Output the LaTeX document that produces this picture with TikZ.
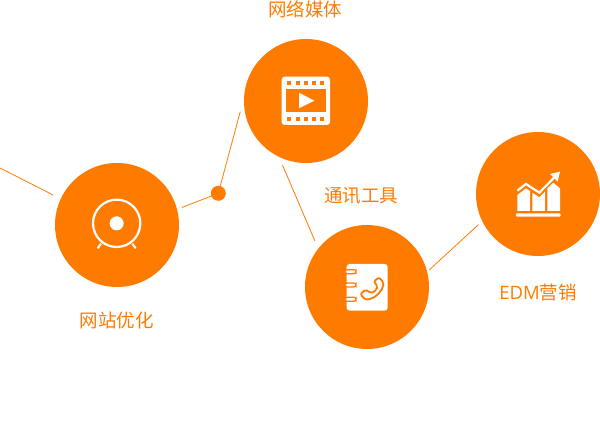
\documentclass[tikz,border=0pt]{standalone}
\usepackage{fontspec}
\setmainfont{Noto Sans CJK SC}
\newfontfamily\edmfont{Open Sans}
\definecolor{brandorange}{HTML}{FF7B00}
\begin{document}
\begin{tikzpicture}[x=1pt,y=-1pt]
        \tikzstyle{ball}=[fill=brandorange,circle,inner sep=0pt,outer sep=4pt,minimum size=124pt]
        \tikzstyle{spot}=[fill=brandorange,circle,inner sep=0pt,minimum size=15pt]
        \tikzstyle{lbl}=[text=brandorange,font=\fontsize{18.5}{19}\selectfont,inner sep=0pt]
        \tikzstyle{wire}=[draw=brandorange,line width=0.8pt]
        \useasboundingbox (0,0) rectangle (600,430);
        \node[ball] (webball) at (117,225) {};
        \node[ball] (mediaball) at (306,101) {};
        \node[ball] (toolball) at (367,287) {};
        \node[ball] (edmball) at (538,194) {};
        \node[spot] (dotball) at (218.3,193.3) {};
        \coordinate (wireend) at (0,168);
        \node[lbl] (medialbl) at (305,9) {网络媒体};
        \node[lbl] (toollbl) at (361,196) {通讯工具};
        \node[lbl] (edmlbl) at (538,292) {{\edmfont EDM}营销};
        \node[lbl] (weblbl) at (116.5,320) {网站优化};
        % connectors
        \draw[wire,shorten >=4.7pt] (wireend) -- (webball.155);
        \draw[wire,shorten <=1.4pt] (webball.15.5) -- (dotball.center);
        \draw[wire,shorten >=1.5pt] (dotball.center) -- (mediaball.188.6);
        \draw[wire,shorten <=3pt,shorten >=4pt] (mediaball.248.8) -- (toolball.140.6);
        \draw[wire,shorten <=-1.4pt,shorten >=1pt] (toolball.16.4) -- (edmball.207);
        % target icon
        \begin{scope}[shift={(70,180)},scale=1/3]
            \draw[white,line width=2.2pt] (140,130) circle (71);
            \fill[white] (140,130) circle (21);
            \draw[white,line width=2pt] (93,191) -- (83,205);
            \draw[white,line width=2pt] (187,191) -- (197,205);
        \end{scope}
        % film icon
        \begin{scope}[shift={(265,60)},scale=1/3]
            \fill[white,rounded corners=3pt] (50,50) rectangle (195,195);
            \fill[brandorange] (63,88) rectangle (183,157);
            \fill[white] (102,98) -- (148,122) -- (102,145) -- cycle;
            \foreach \holex in {73,98,122,147,172} {
                \fill[brandorange] (\holex-6,62) rectangle (\holex+6,75);
                \fill[brandorange] (\holex-6,170) rectangle (\holex+6,183);
            }
        \end{scope}
        % address book icon
        \begin{scope}[shift={(330,250)},scale=1/3]
            \fill[white,rounded corners=3pt] (50,42) rectangle (173,182);
            \foreach \ringy in {65,105,148} {
                \draw[brandorange,fill=white,line width=1.2pt,rounded corners=2pt] (46,\ringy-6) rectangle (78,\ringy+6);
            }
            \draw[brandorange,line width=1.8pt,line join=round,rounded corners=2pt] (131,95) -- (147,82) -- (161,98)
                .. controls (158,122) and (138,142) .. (116,148) -- (105,149) -- (91,132) -- (108,118) -- (122,130)
                .. controls (132,126) and (140,118) .. (143,108) -- cycle;
        \end{scope}
        % chart icon
        \begin{scope}[shift={(500,160)},scale=1/3]
            \fill[white,rounded corners=1pt] (48,160) rectangle (182,170);
            \fill[white] (52,153) -- (52,105) -- (78,85) -- (90,93) -- (90,153) -- cycle;
            \fill[white] (97,153) -- (97,98) -- (118,112) -- (135,95) -- (135,153) -- cycle;
            \fill[white] (142,153) -- (142,85) -- (160,68) -- (180,85) -- (180,153) -- cycle;
            \draw[white,line width=2.2pt] (52,92) -- (78,72) -- (118,98) -- (168,47);
            \fill[white] (150,42) -- (180,35) -- (173,65) -- cycle;
        \end{scope}
    \end{tikzpicture}
\end{document}
